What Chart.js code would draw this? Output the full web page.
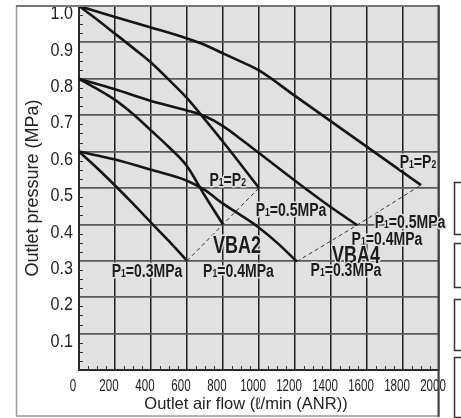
<!DOCTYPE html>
<html><head><meta charset="utf-8">
<script src="https://cdn.jsdelivr.net/npm/chart.js@4.4.0/dist/chart.umd.min.js"></script>
<style>html,body{margin:0;padding:0;background:#fff;}canvas{display:block;}</style>
</head><body>
<canvas id="c" width="461" height="418"></canvas>
<script>
// ---- data ----
const xTickLabels = ['0','200','400','600','800','1000','1200','1400','1600','1800','2000'];
const yTickLabels = ['','0.1','0.2','0.3','0.4','0.5','0.6','0.7','0.8','0.9','1.0'];
const xTitle = 'Outlet air flow (\u2113/min (ANR))';
const yTitle = 'Outlet pressure (MPa)';

const vba2P05Flow = [0, 100, 200, 300, 400, 500, 600, 700, 800, 900, 1000];
const vba2P05Pres = [1.0, 0.963, 0.924, 0.885, 0.845, 0.797, 0.747, 0.688, 0.627, 0.564, 0.5];
const vba2P04Flow = [0, 100, 200, 300, 400, 500, 600, 700, 800];
const vba2P04Pres = [0.8, 0.772, 0.742, 0.703, 0.658, 0.612, 0.56, 0.478, 0.4];
const vba2P03Flow = [0, 100, 200, 300, 400, 500, 600];
const vba2P03Pres = [0.6, 0.555, 0.507, 0.457, 0.405, 0.354, 0.3];

const vba4P05Flow = [0, 200, 400, 600, 700, 800, 900, 1000, 1200, 1400, 1600, 1800, 1900];
const vba4P05Pres = [1.0, 0.970, 0.941, 0.911, 0.893, 0.870, 0.847, 0.823, 0.753, 0.683, 0.613, 0.543, 0.508];
const vba4P04Flow = [0, 200, 400, 600, 700, 800, 900, 1000, 1200, 1400, 1545];
const vba4P04Pres = [0.8, 0.771, 0.739, 0.713, 0.697, 0.670, 0.634, 0.596, 0.520, 0.447, 0.398];
const vba4P03Flow = [0, 200, 400, 600, 700, 800, 900, 1000, 1100, 1210];
const vba4P03Pres = [0.6, 0.578, 0.55, 0.52, 0.494, 0.457, 0.425, 0.391, 0.35, 0.298];

const vba2EqualFlow = [600, 800, 1000];
const vba2EqualPres = [0.3, 0.4, 0.5];
const vba4EqualFlow = [1210, 1545, 1900];
const vba4EqualPres = [0.298, 0.398, 0.508];

const annotationTexts = ['P1=P2','P1=P2','P1=0.5MPa','P1=0.5MPa','P1=0.4MPa','VBA4','P1=0.3MPa','VBA2','P1=0.4MPa','P1=0.3MPa'];
const annotationAt = [[826,0.524],[1883,0.574],[1178,0.44],[1839,0.408],[1711,0.361],[1539,0.316],[1483,0.275],[878,0.343],[886,0.272],[378,0.272]];
const annotationSize = [18,18,18,18,18,23,18,23,18,18];

const sansFam = '"Liberation Sans", Arial, Helvetica, sans-serif';

function pts(xs, ys){ return xs.map((x, i) => ({x: x, y: ys[i]})); }

const curveStyle = {borderColor:'#151515', borderWidth:2.6, pointRadius:0, showLine:true, cubicInterpolationMode:'monotone', fill:false, clip:4};
const dashStyle = {borderColor:'#333', borderWidth:1, borderDash:[4,3], pointRadius:0, showLine:true, tension:0, fill:false};

function drawRich(ctx, text, cx, cy, size, sx){
  const segs = [];
  for (let i = 0; i < text.length; i++) {
    const ch = text[i];
    const sub = /\d/.test(ch) && i > 0 && text[i-1] === 'P';
    if (segs.length && segs[segs.length-1].sub === sub) segs[segs.length-1].t += ch;
    else segs.push({t: ch, sub: sub});
  }
  const mainF = 'bold ' + size + 'px ' + sansFam;
  const subF = 'bold ' + Math.round(size * 0.62) + 'px ' + sansFam;
  let w = 0;
  segs.forEach(s => { ctx.font = s.sub ? subF : mainF; s.w = ctx.measureText(s.t).width; w += s.w; });
  ctx.save();
  ctx.translate(cx, cy);
  ctx.scale(sx, 1);
  ctx.textBaseline = 'alphabetic'; ctx.textAlign = 'left';
  const base = size * 0.36;
  ctx.lineJoin = 'round'; ctx.strokeStyle = '#e1e1e1'; ctx.lineWidth = 3;
  let x = -w / 2;
  segs.forEach(s => { ctx.font = s.sub ? subF : mainF; ctx.strokeText(s.t, x, base); x += s.w; });
  ctx.fillStyle = '#1c1c1c';
  x = -w / 2;
  segs.forEach(s => { ctx.font = s.sub ? subF : mainF; ctx.fillText(s.t, x, base); x += s.w; });
  ctx.restore();
}

// draw a scale's tick labels horizontally condensed (like the reference's condensed type)
function condenseLabels(scale, sx){
  if (scale._condensed) return;
  const orig = scale.drawLabels;
  scale.drawLabels = function(ca){
    const ctx = this.ctx;
    const proto = Object.getPrototypeOf(ctx).fillText;
    ctx.fillText = function(t, x, y){ this.save(); this.translate(x, y); this.scale(sx, 1); proto.call(this, t, 0, 0); this.restore(); };
    try { orig.call(this, ca); } finally { delete ctx.fillText; }
  };
  scale._condensed = true;
}

const decorPlugin = {
  id: 'decor',
  beforeDraw(chart){
    const {ctx, chartArea: a} = chart;
    ctx.save();
    ctx.fillStyle = '#fff'; ctx.fillRect(0, 0, chart.width, chart.height);
    ctx.strokeStyle = '#9a9a9a'; ctx.lineWidth = 1.5;
    ctx.strokeRect(16.5, a.top, a.right - 16.5, 416 - a.top);
    ctx.fillStyle = '#e1e1e1';
    ctx.fillRect(a.left, a.top, a.right - a.left, a.bottom - a.top);
    ctx.restore();
    const xs = chart.scales.x;
    if (!xs._shifted) {
      const orig = xs.drawTitle;
      xs.drawTitle = function(){ this.ctx.save(); this.ctx.translate(-13, 0); orig.call(this); this.ctx.restore(); };
      xs._shifted = true;
    }
    condenseLabels(chart.scales.x, 0.68);
    condenseLabels(chart.scales.y, 0.85);
  },
  afterDraw(chart){
    const {ctx, chartArea: a, scales: {x, y}} = chart;
    ctx.save();
    // plot frame: grey top edge, darker right edge
    ctx.lineWidth = 2;
    ctx.strokeStyle = '#777';
    ctx.beginPath(); ctx.moveTo(16, a.top); ctx.lineTo(a.right, a.top); ctx.stroke();
    ctx.strokeStyle = '#444';
    ctx.beginPath(); ctx.moveTo(a.right - 0.5, a.top - 1); ctx.lineTo(a.right - 0.5, 417); ctx.stroke();
    ctx.strokeStyle = '#333'; ctx.lineWidth = 1;
    for (let k = 1; k < 40; k++) {
      if (k % 4 === 0) continue;
      const py = Math.round(y.getPixelForValue(k * 0.025)) + 0.5;
      ctx.beginPath(); ctx.moveTo(a.left, py); ctx.lineTo(a.left + 4, py); ctx.stroke();
    }
    for (let k = 1; k < 40; k++) {
      if (k % 4 === 0) continue;
      const px = Math.round(x.getPixelForValue(k * 50)) + 0.5;
      ctx.beginPath(); ctx.moveTo(px, a.bottom); ctx.lineTo(px, a.bottom - 4); ctx.stroke();
    }
    // boxes at the right edge (cut off in the reference)
    ctx.strokeStyle = '#333'; ctx.lineWidth = 1.5;
    [[182,234],[243,287],[299,350],[357,417]].forEach(b => {
      ctx.strokeRect(454.5, b[0] + 0.5, 20, b[1] - b[0]);
    });
    for (let i = 0; i < annotationTexts.length; i++) {
      const px = x.getPixelForValue(annotationAt[i][0]);
      const py = y.getPixelForValue(annotationAt[i][1]);
      drawRich(ctx, annotationTexts[i], px, py, annotationSize[i], 0.78);
    }
    ctx.restore();
  }
};

new Chart(document.getElementById('c'), {
  type: 'scatter',
  data: {
    datasets: [
      Object.assign({label:'VBA2 P1=0.5MPa', data: pts(vba2P05Flow, vba2P05Pres)}, curveStyle),
      Object.assign({label:'VBA2 P1=0.4MPa', data: pts(vba2P04Flow, vba2P04Pres)}, curveStyle),
      Object.assign({label:'VBA2 P1=0.3MPa', data: pts(vba2P03Flow, vba2P03Pres)}, curveStyle),
      Object.assign({label:'VBA4 P1=0.5MPa', data: pts(vba4P05Flow, vba4P05Pres)}, curveStyle),
      Object.assign({label:'VBA4 P1=0.4MPa', data: pts(vba4P04Flow, vba4P04Pres)}, curveStyle),
      Object.assign({label:'VBA4 P1=0.3MPa', data: pts(vba4P03Flow, vba4P03Pres)}, curveStyle),
      Object.assign({label:'VBA2 P1=P2', data: pts(vba2EqualFlow, vba2EqualPres)}, dashStyle),
      Object.assign({label:'VBA4 P1=P2', data: pts(vba4EqualFlow, vba4EqualPres)}, dashStyle)
    ]
  },
  options: {
    responsive: false,
    animation: false,
    devicePixelRatio: 1,
    layout: {padding: {top: 6, right: 22, left: 0, bottom: 0}},
    plugins: {legend: {display: false}, tooltip: {enabled: false}},
    scales: {
      x: {
        type: 'linear', min: 0, max: 2000,
        afterFit: s => { s.height = 48; s.paddingLeft = 0; s.paddingRight = 0; },
        grid: {color: '#1e1e1e', lineWidth: 1.5, drawTicks: false},
        border: {color: '#2a2a2a', width: 2},
        ticks: {stepSize: 200, autoSkip: false, maxRotation: 0, minRotation: 0,
          callback: (v, i) => xTickLabels[i], color: '#222', padding: 6, labelOffset: -6,
          font: {family: sansFam, size: 17}},
        title: {display: true, text: xTitle, color: '#222', padding: {top: 0, bottom: 4},
          font: {family: sansFam, size: 16.5}}
      },
      y: {
        type: 'linear', min: 0, max: 1.0,
        afterFit: s => { s.width = 79; s.paddingTop = 0; s.paddingBottom = 0; },
        grid: {color: '#5a5a5a', lineWidth: 1.8, drawTicks: false},
        border: {color: '#2a2a2a', width: 2},
        ticks: {stepSize: 0.1, autoSkip: false,
          callback: (v, i) => yTickLabels[i], color: '#222', padding: 6, labelOffset: 8,
          font: {family: sansFam, size: 19}},
        title: {display: true, text: yTitle, color: '#222', padding: {top: 22, bottom: 0},
          font: {family: sansFam, size: 18}}
      }
    }
  },
  plugins: [decorPlugin]
});
</script>
</body></html>
